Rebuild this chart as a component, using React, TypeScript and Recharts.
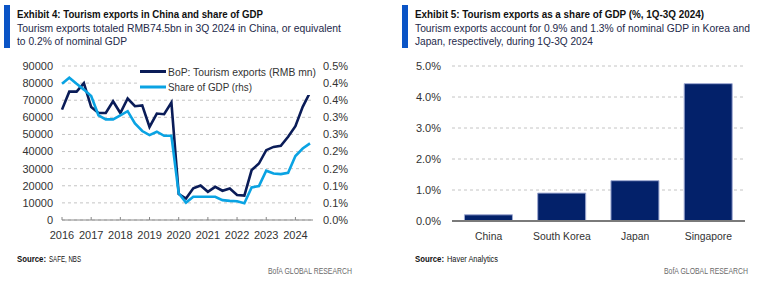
import React from "react"
import {
  LineChart,
  Line,
  BarChart,
  Bar,
  XAxis,
  YAxis,
  CartesianGrid,
  Legend,
} from "recharts"

// quarterly, 1Q 2016 – 3Q 2024
const quarters = [
  "2016Q1", "2016Q2", "2016Q3", "2016Q4",
  "2017Q1", "2017Q2", "2017Q3", "2017Q4",
  "2018Q1", "2018Q2", "2018Q3", "2018Q4",
  "2019Q1", "2019Q2", "2019Q3", "2019Q4",
  "2020Q1", "2020Q2", "2020Q3", "2020Q4",
  "2021Q1", "2021Q2", "2021Q3", "2021Q4",
  "2022Q1", "2022Q2", "2022Q3", "2022Q4",
  "2023Q1", "2023Q2", "2023Q3", "2023Q4",
  "2024Q1", "2024Q2", "2024Q3",
]

// BoP tourism exports, RMB mn
const bopExports = [
  64500, 75000, 75000, 80000,
  66000, 62500, 62600, 69400,
  62500, 71000, 66500, 67000,
  54400, 62200, 61800, 68600,
  15200, 12500, 18500, 20200,
  16500, 19400, 17100, 18400,
  14600, 14300, 29200, 33000,
  40800, 42700, 43300, 48600,
  54800, 66100, 74500,
]

// tourism exports as % of GDP (rhs)
const gdpShare = [
  0.398, 0.416, 0.398, 0.381,
  0.362, 0.306, 0.294, 0.294,
  0.306, 0.318, 0.282, 0.26,
  0.248, 0.258, 0.246, 0.246,
  0.078, 0.051, 0.068, 0.068,
  0.068, 0.068, 0.058, 0.056,
  0.055, 0.049, 0.095, 0.099,
  0.144, 0.136, 0.134, 0.138,
  0.187, 0.209, 0.224,
]

const yearTicks = ["2016Q1", "2017Q1", "2018Q1", "2019Q1", "2020Q1", "2021Q1", "2022Q1", "2023Q1", "2024Q1"]
const leftTicks = [0, 10000, 20000, 30000, 40000, 50000, 60000, 70000, 80000, 90000]
const rightTicks = [0, 0.05, 0.1, 0.15, 0.2, 0.25, 0.3, 0.35, 0.4, 0.45]

// 1Q-3Q 2024, % of GDP
const countries = ["China", "South Korea", "Japan", "Singapore"]
const shareOfGdp = [0.2, 0.9, 1.3, 4.43]
const shareTicks = [0, 1, 2, 3, 4, 5]

const seriesData = quarters.map((q, i) => ({ q, bop: bopExports[i], share: gdpShare[i] }))
const countryData = countries.map((c, i) => ({ country: c, value: shareOfGdp[i] }))

const FONT = '"Liberation Sans", Arial, sans-serif'
const NAVY = "#0a1c58"
const SKY = "#0aa3e3"
const BAR = "#03216a"
const TICK = "#333"
const GRID = "#c4c4c4"

const tickStyle = { fontSize: 11, fill: TICK, fontFamily: FONT }

// 0.05 -> 0.1%, 0.15 -> 0.2% ... (round half up to one decimal)
const fmtShare = (v: number) => (Math.ceil(Math.round(v * 100) / 10) / 10).toFixed(1) + "%"

const YearTick = (props: any) => {
  const { x, y, payload } = props
  return (
    <g>
      <line x1={x} x2={x} y1={y - 3} y2={y} stroke="#888" />
      <text x={x} y={y + 19} textAnchor="middle" {...tickStyle}>
        {String(payload.value).slice(0, 4)}
      </text>
    </g>
  )
}

// narrow category labels
const CountryTick = (props: any) => {
  const { x, y, payload } = props
  return (
    <text transform={`translate(${x},${y + 19}) scale(0.9,1)`} textAnchor="middle" {...tickStyle} fontSize={11.5}>
      {payload.value}
    </text>
  )
}

const legendWidths: Record<string, number> = {
  "BoP: Tourism exports (RMB mn)": 148,
  "Share of GDP (rhs)": 84,
}

const LegendBox = (props: any) => (
  <svg width={182} height={32} style={{ display: "block" }}>
    <rect x={0} y={0} width={178} height={32} fill="#fff" />
    {props.payload.map((p: any, i: number) => {
      const cy = 8.5 + i * 15.5
      return (
        <g key={p.value}>
          <line x1={3} x2={29} y1={cy} y2={cy} stroke={p.color} strokeWidth={3} />
          <text
            x={31}
            y={cy + 4.2}
            fontFamily={FONT}
            fontSize={11.2}
            fill={TICK}
            textLength={legendWidths[p.value]}
            lengthAdjust="spacingAndGlyphs"
          >
            {p.value}
          </text>
        </g>
      )
    })}
  </svg>
)

type Line = { text: string; w: number }

const Header = ({ x, title, lines }: { x: number; title: Line; lines: Line[] }) => (
  <g>
    <rect x={x} y={5} width={6} height={43} fill="#0a54c6" />
    <text x={x + 13} y={18.3} fontFamily={FONT} fontSize={11.5} fontWeight={700} fill="#111" textLength={title.w} lengthAdjust="spacingAndGlyphs">
      {title.text}
    </text>
    {lines.map((l, i) => (
      <text
        key={i}
        x={x + 13}
        y={31.6 + i * 13.6}
        fontFamily={FONT}
        fontSize={11.6}
        fill="#23294a"
        textLength={l.w}
        lengthAdjust="spacingAndGlyphs"
      >
        {l.text}
      </text>
    ))}
  </g>
)

const Footer = ({ x, source, sourceW, brandRight }: { x: number; source: string; sourceW: number; brandRight: number }) => (
  <g fontFamily={FONT} fontSize={8.5}>
    <text x={x} y={261.5} fill="#111" fontWeight={700} textLength={29} lengthAdjust="spacingAndGlyphs">
      Source:
    </text>
    <text x={x + 32} y={261.5} fill="#111" textLength={sourceW} lengthAdjust="spacingAndGlyphs">
      {source}
    </text>
    <text x={brandRight - 84} y={274} fill="#6a6a6a" textLength={84} lengthAdjust="spacingAndGlyphs">
      BofA GLOBAL RESEARCH
    </text>
  </g>
)

export default function App() {
  return (
    <div style={{ position: "absolute", left: 0, top: 0, width: 760, height: 285, background: "#fff", overflow: "hidden" }}>
      <svg width={760} height={285} style={{ position: "absolute", left: 0, top: 0 }}>
        <Header
          x={4}
          title={{ text: "Exhibit 4: Tourism exports in China and share of GDP", w: 246 }}
          lines={[
            { text: "Tourism exports totaled RMB74.5bn in 3Q 2024 in China, or equivalent", w: 324 },
            { text: "to 0.2% of nominal GDP", w: 110 },
          ]}
        />
        <Header
          x={402}
          title={{ text: "Exhibit 5: Tourism exports as a share of GDP (%, 1Q-3Q 2024)", w: 289 }}
          lines={[
            { text: "Tourism exports account for 0.9% and 1.3% of nominal GDP in Korea and", w: 335 },
            { text: "Japan, respectively, during 1Q-3Q 2024", w: 178 },
          ]}
        />
        <Footer x={17} source="SAFE, NBS" sourceW={32} brandRight={352} />
        <Footer x={415} source="Haver Analytics" sourceW={51} brandRight={748} />
      </svg>

      <div style={{ position: "absolute", left: 0, top: 50 }}>
        <LineChart width={380} height={200} data={seriesData} margin={{ top: 16, right: 7, bottom: 0, left: 0 }}>
          <CartesianGrid vertical={false} stroke={GRID} strokeDasharray="3 3" yAxisId="left" />
          <XAxis
            dataKey="q"
            ticks={yearTicks}
            interval={0}
            height={30}
            padding={{ left: 0, right: 3 }}
            stroke="#888"
            tickLine={false}
            tickSize={0}
            tickMargin={0}
            tick={<YearTick />}
          />
          <YAxis
            yAxisId="left"
            width={62}
            domain={[0, 90000]}
            ticks={leftTicks}
            interval={0}
            axisLine={false}
            tickLine={false}
            tickSize={0}
            tickMargin={9}
            tick={tickStyle}
          />
          <YAxis
            yAxisId="right"
            orientation="right"
            width={60}
            domain={[0, 0.45]}
            ticks={rightTicks}
            interval={0}
            tickFormatter={fmtShare}
            axisLine={false}
            tickLine={false}
            tickSize={0}
            tickMargin={10}
            tick={tickStyle}
          />
          <Legend
            layout="horizontal"
            verticalAlign="middle"
            align="center"
            content={<LegendBox />}
            wrapperStyle={{ left: 137, top: 13, width: 182, height: 32 }}
          />
          <Line
            yAxisId="left"
            dataKey="bop"
            name="BoP: Tourism exports (RMB mn)"
            stroke={NAVY}
            strokeWidth={2.6}
            dot={false}
            isAnimationActive={false}
          />
          <Line
            yAxisId="right"
            dataKey="share"
            name="Share of GDP (rhs)"
            stroke={SKY}
            strokeWidth={2.6}
            dot={false}
            isAnimationActive={false}
          />
        </LineChart>
      </div>

      <div style={{ position: "absolute", left: 380, top: 50 }}>
        <BarChart width={380} height={200} data={countryData} margin={{ top: 16, right: 15, bottom: 0, left: 0 }} barCategoryGap="17%">
          <CartesianGrid vertical={false} stroke={GRID} strokeDasharray="3 3" />
          <XAxis
            dataKey="country"
            height={29}
            stroke="#7a7a7a"
            strokeWidth={2}
            tickLine={false}
            tickSize={0}
            tickMargin={0}
            interval={0}
            tick={<CountryTick />}
          />
          <YAxis
            width={72}
            domain={[0, 5]}
            ticks={shareTicks}
            interval={0}
            tickFormatter={(v: number) => v.toFixed(1) + "%"}
            axisLine={false}
            tickLine={false}
            tickSize={0}
            tickMargin={11}
            tick={tickStyle}
          />
          <Bar dataKey="value" fill={BAR} stroke="#9ea9d2" strokeWidth={1} isAnimationActive={false} />
        </BarChart>
      </div>
    </div>
  )
}
